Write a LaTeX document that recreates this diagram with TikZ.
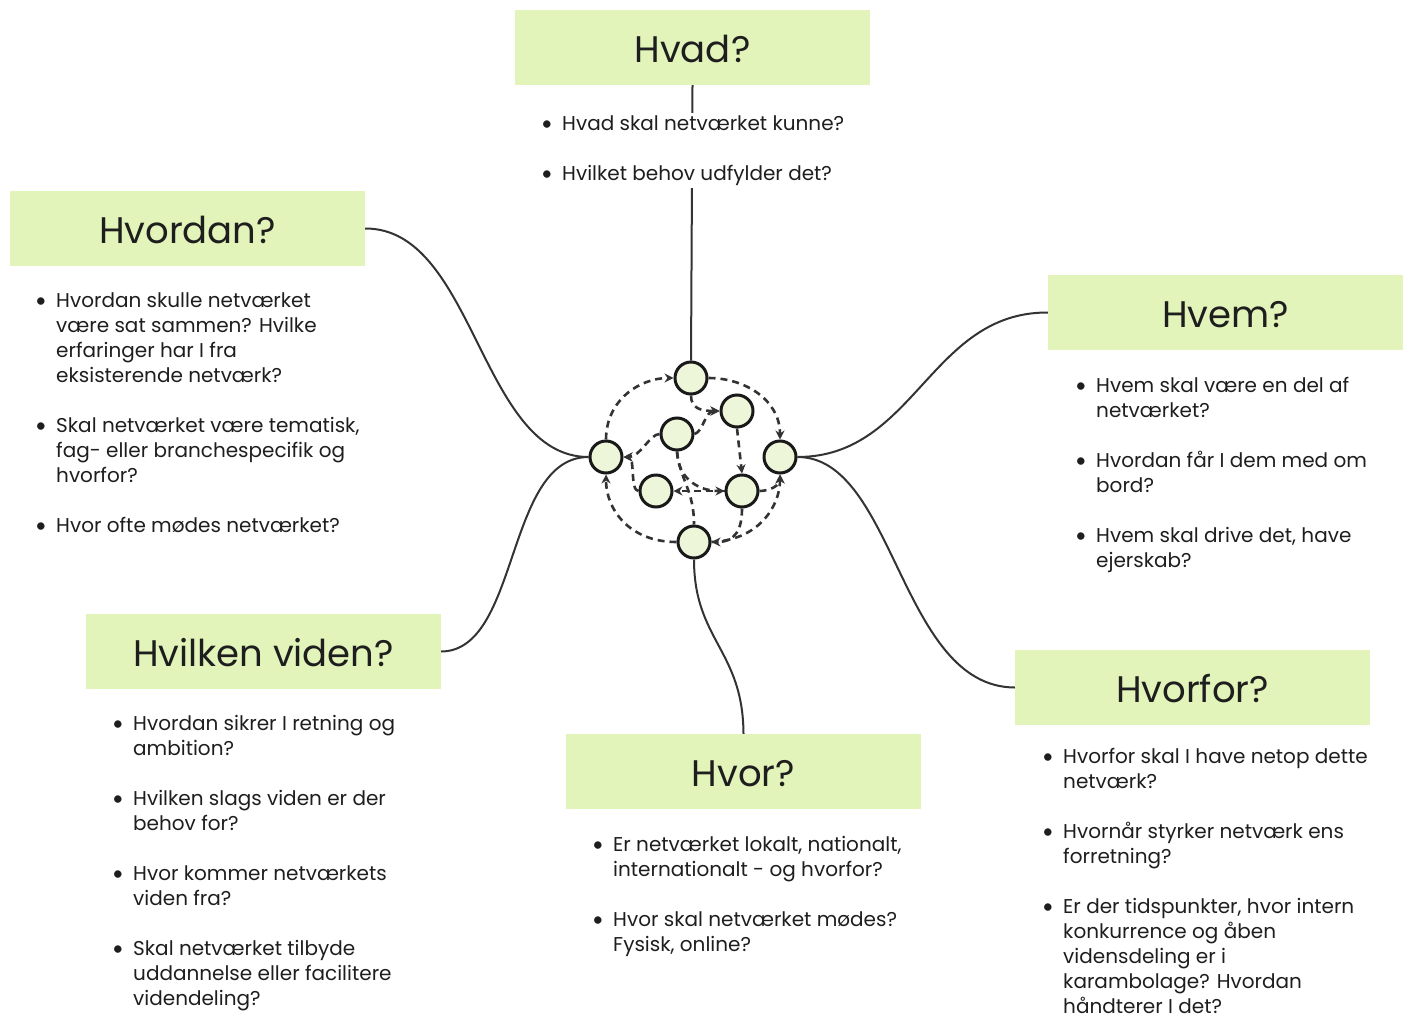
\documentclass[tikz,border=0pt]{standalone}
\usepackage{fontspec}
\setmainfont{Poppins}
\newfontfamily\dotfont{Lato}
\usetikzlibrary{arrows.meta}

\definecolor{boxgreen}{HTML}{E3F4BA}
\definecolor{hubfill}{HTML}{EEF6DA}
\definecolor{inkgray}{HTML}{333333}
\definecolor{inktext}{HTML}{1E1E1E}

\tikzset{
  head/.style={fill=boxgreen, minimum width=355pt, minimum height=75pt, inner sep=0pt,
    text height=30pt, text depth=0pt, text=inktext, font=\fontsize{37}{44}\selectfont},
  hub/.style={circle, draw=black!90, line width=3pt, fill=hubfill, minimum size=32pt, inner sep=0pt},
  link/.style={inkgray, line width=2pt},
  flow/.style={inkgray, line width=2.6pt, dash pattern=on 7pt off 5pt},
  notes/.style={anchor=north west, inner sep=0pt, align=left, text=inktext,
    font=\fontsize{20}{25}\selectfont},
}
\newcommand{\itm}{{\dotfont\textbullet}}

\begin{document}
\begin{tikzpicture}[x=1pt,y=-1pt,>={Stealth[length=9pt,width=9pt]}]
  \useasboundingbox (0,0) rectangle (1410,1017);

  % question boxes
  \node[head] (hvad)    at (692.5,47.5)  {Hvad?};
  \node[head] (hvordan) at (187.5,228.5) {Hvordan?};
  \node[head] (hvem)    at (1225.5,312.5) {Hvem?};
  \node[head] (hvilken) at (263.5,651.5) {Hvilken viden?};
  \node[head] (hvor)    at (743.5,771.5) {Hvor?};
  \node[head] (hvorfor) at (1192.5,687.5) {Hvorfor?};

  % network in the middle
  \node[hub] (hubN)  at (691,378) {};
  \node[hub] (hubNE) at (737,411) {};
  \node[hub] (hubC)  at (677,434) {};
  \node[hub] (hubW)  at (606,457) {};
  \node[hub] (hubE)  at (780,457) {};
  \node[hub] (hubSW) at (656,491) {};
  \node[hub] (hubSE) at (742,491) {};
  \node[hub] (hubS)  at (694,542) {};

  % links from the boxes to the network
  \draw[link] (hvad.south) -- (hubN.north);
  \draw[link] (hvordan.east) .. controls (475,228) and (480,457) .. (hubW.west);
  \draw[link] (hvilken.east) .. controls (520,651) and (505,457) .. (hubW.west);
  \draw[link] (hvem.west) .. controls (930,312) and (915,457) .. (hubE.east);
  \draw[link] (hvorfor.west) .. controls (900,687) and (895,457) .. (hubE.east);
  \draw[link] (hvor.north) .. controls (743,650) and (694,640) .. (hubS.south);

  % dashed flows between the hubs
  \draw[flow,->] (hubW.north) .. controls (606,400) and (640,378) .. (hubN.west);
  \draw[flow,->] (hubN.east) .. controls (745,378) and (780,400) .. (hubE.north);
  \draw[flow,->] (hubS.west) .. controls (630,542) and (606,510) .. (hubW.south);
  \draw[flow,->] (hubS.east) .. controls (760,540) and (780,505) .. (hubE.south);
  \draw[flow,->] (hubSE.east) .. controls (770,491) and (780,485) .. (hubE.south);
  \draw[flow,->] (hubSE.south) .. controls (742,530) and (735,542) .. (hubS.east);
  \draw[flow,->] (hubN.south) .. controls (691,408) and (700,411) .. (hubNE.west);
  \draw[flow,->] (hubC.east) .. controls (703,432) and (705,411) .. (hubNE.west);
  \draw[flow,->] (hubNE.south) -- (hubSE.north);
  \draw[flow,->] (hubC.south) .. controls (678,480) and (700,491) .. (hubSE.west);
  \draw[flow,->] (hubSE.west) -- (hubSW.east);
  \draw[flow] (hubC.south) .. controls (680,480) and (694,490) .. (hubS.north);
  \draw[flow,->] (hubC.west) .. controls (650,434) and (640,457) .. (hubW.east);
  \draw[flow,->] (hubSW.west) .. controls (630,491) and (635,457) .. (hubW.east);

  % question lists
  \node[notes, fill=white] (hvadtxt) at (541,112.5) {\begin{tabular}{@{}p{21pt}@{}l@{}}
    \itm & Hvad skal netværket kunne?\\[25pt]
    \itm & Hvilket behov udfylder det?
  \end{tabular}};
  \node[notes] (hvordantxt) at (35,289.5) {\begin{tabular}{@{}p{21pt}@{}l@{}}
    \itm & Hvordan skulle netværket\\
         & være sat sammen? Hvilke\\
         & erfaringer har I fra\\
         & eksisterende netværk?\\[25pt]
    \itm & Skal netværket være tematisk,\\
         & fag- eller branchespecifik og\\
         & hvorfor?\\[25pt]
    \itm & Hvor ofte mødes netværket?
  \end{tabular}};
  \node[notes] (hvemtxt) at (1075,374.5) {\begin{tabular}{@{}p{21pt}@{}l@{}}
    \itm & Hvem skal være en del af\\
         & netværket?\\[25pt]
    \itm & Hvordan får I dem med om\\
         & bord?\\[25pt]
    \itm & Hvem skal drive det, have\\
         & ejerskab?
  \end{tabular}};
  \node[notes] (hvilkentxt) at (112,712.5) {\begin{tabular}{@{}p{21pt}@{}l@{}}
    \itm & Hvordan sikrer I retning og\\
         & ambition?\\[25pt]
    \itm & Hvilken slags viden er der\\
         & behov for?\\[25pt]
    \itm & Hvor kommer netværkets\\
         & viden fra?\\[25pt]
    \itm & Skal netværket tilbyde\\
         & uddannelse eller facilitere\\
         & videndeling?
  \end{tabular}};
  \node[notes] (hvortxt) at (592,833.5) {\begin{tabular}{@{}p{21pt}@{}l@{}}
    \itm & Er netværket lokalt, nationalt,\\
         & internationalt - og hvorfor?\\[25pt]
    \itm & Hvor skal netværket mødes?\\
         & Fysisk, online?
  \end{tabular}};
  \node[notes] (hvorfortxt) at (1042,746) {\begin{tabular}{@{}p{21pt}@{}l@{}}
    \itm & Hvorfor skal I have netop dette\\
         & netværk?\\[25pt]
    \itm & Hvornår styrker netværk ens\\
         & forretning?\\[25pt]
    \itm & Er der tidspunkter, hvor intern\\
         & konkurrence og åben\\
         & vidensdeling er i\\
         & karambolage? Hvordan\\
         & håndterer I det?
  \end{tabular}};
\end{tikzpicture}
\end{document}
